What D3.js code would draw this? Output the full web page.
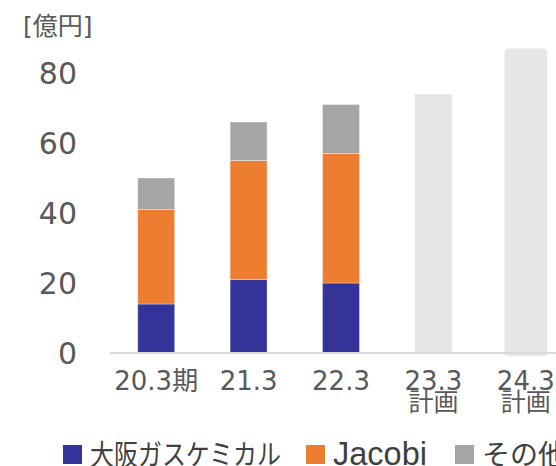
<!DOCTYPE html>
<html><head><meta charset="utf-8">
<script src="https://cdn.jsdelivr.net/npm/d3@7/dist/d3.min.js"></script>
<style>
html,body{margin:0;padding:0;background:#fff;overflow:hidden}
text{font-family:"DejaVu Sans","Noto Sans CJK JP",sans-serif;fill:#595959}
</style></head>
<body><svg id="c" width="556" height="466"></svg>
<script>
const catLine1 = ["20.3期","21.3","22.3","23.3","24.3"];
const catLine2 = ["","","","計画","計画"];
const seriesNames = ["大阪ガスケミカル","Jacobi","その他"];
const osakaGas = [14,21,20,0,0];
const jacobi = [27,34,37,0,0];
const other = [9,11,14,0,0];
const plan = [0,0,0,74,87];
const yTicks = [0,20,40,60,80];
const unitLabel = "[億円]";

const colors = ["#333399","#ED7D31","#A5A5A5"];
const planColor = "#E6E6E6";

const svg = d3.select("#c");
const x = d3.scaleBand().domain(catLine1).range([110,572]).paddingInner(0.6).paddingOuter(0.3);
const y = d3.scaleLinear().domain([0,80]).range([353,73]);

const rows = catLine1.map((c,i)=>({cat:c, s0:osakaGas[i], s1:jacobi[i], s2:other[i]}));
const stack = d3.stack().keys(["s0","s1","s2"])(rows);

// plan bars
const planRows = catLine1.map((c,i)=>({cat:c,v:plan[i],i})).filter(d=>d.v>0);
svg.append("g").selectAll("rect").data(planRows).join("rect")
  .attr("x",d=>{const w = d.i===4 ? x.bandwidth()*1.16 : x.bandwidth(); return x(d.cat)+x.bandwidth()/2-w/2;})
  .attr("width",d=> d.i===4 ? x.bandwidth()*1.16 : x.bandwidth())
  .attr("y",d=>y(d.v))
  .attr("height",d=>y(0)-y(d.v) + (d.i===4?3:0))
  .attr("rx",d=>d.i===4?4:0)
  .attr("fill",planColor);

// stacked bars
svg.append("g").selectAll("g").data(stack).join("g")
  .attr("fill",(d,i)=>colors[i])
  .selectAll("rect").data(d=>d.filter(p=>p[1]>p[0])).join("rect")
  .attr("x",d=>x(d.data.cat))
  .attr("width",x.bandwidth())
  .attr("y",d=>y(d[1]))
  .attr("height",d=>y(d[0])-y(d[1]))
  .attr("stroke","#ffffff").attr("stroke-opacity",0.35).attr("stroke-width",1);

// axis line
svg.append("line").attr("x1",110).attr("x2",556).attr("y1",y(0)).attr("y2",y(0))
  .attr("stroke","#D9D9D9").attr("stroke-width",2);

// y ticks
const yAxis = svg.append("g").attr("transform","translate(77,0)")
  .call(d3.axisLeft(y).tickValues(yTicks).tickSize(0).tickPadding(0).tickFormat(d3.format("d")));
yAxis.select(".domain").remove();
yAxis.selectAll("text").attr("font-size",30).attr("fill","#595959").attr("dy","0.35em")
  .style("font-family","'DejaVu Sans',sans-serif");

// x labels
svg.append("g").selectAll("text").data(catLine1).join("text")
  .attr("x",d=>x(d)+x.bandwidth()/2)
  .attr("y",390)
  .attr("text-anchor","middle")
  .attr("font-size",26)
  .text(d=>d);
svg.append("g").selectAll("text").data(catLine1.map((c,i)=>({c,t:catLine2[i]})).filter(d=>d.t)).join("text")
  .attr("x",d=>x(d.c)+x.bandwidth()/2)
  .attr("y",411)
  .attr("text-anchor","middle")
  .attr("font-size",25)
  .text(d=>d.t);

// unit label
svg.append("text").attr("x",23).attr("y",35).attr("font-size",25).text(unitLabel);

// legend
const legX = [63,306,455];
const legSize = [28,32.5,28];
const legLen = [191,null,null];
const legFont = ["'Noto Sans CJK JP',sans-serif","'Liberation Sans',Arial,sans-serif","'Noto Sans CJK JP',sans-serif"];
const lg = svg.append("g").selectAll("g").data(seriesNames).join("g");
lg.append("rect").attr("x",(d,i)=>legX[i]).attr("y",445).attr("width",19).attr("height",19)
  .attr("fill",(d,i)=>colors[i]);
lg.append("text").attr("x",(d,i)=>legX[i]+27).attr("y",465)
  .attr("font-size",(d,i)=>legSize[i])
  .style("fill","#404040")
  .style("font-family",(d,i)=>legFont[i])
  .each(function(d,i){ if(legLen[i]){ d3.select(this).attr("textLength",legLen[i]).attr("lengthAdjust","spacingAndGlyphs"); } })
  .text(d=>d);
</script></body></html>
